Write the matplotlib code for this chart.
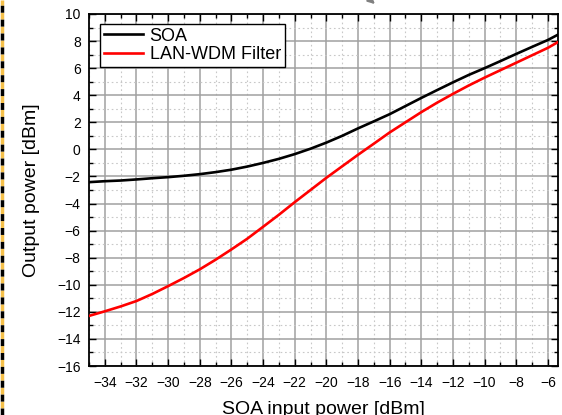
import numpy as np
import matplotlib
matplotlib.use("Agg")
import matplotlib.pyplot as plt
from matplotlib.lines import Line2D
from matplotlib.ticker import MultipleLocator

plt.rcParams['font.family'] = ['Liberation Sans', 'DejaVu Sans']

# input power sweep [dBm]
p_in = [-35, -34, -33, -32, -31, -30, -29, -28, -27, -26, -25, -24, -23, -22,
        -21, -20, -19, -18, -17, -16, -15, -14, -13, -12, -11, -10, -9, -8,
        -7, -6, -5.4]
# output of the bare SOA
p_soa = [-2.42, -2.35, -2.3, -2.22, -2.13, -2.05, -1.95, -1.83, -1.68, -1.5,
         -1.27, -1.0, -0.7, -0.35, 0.05, 0.5, 1.0, 1.55, 2.07, 2.6, 3.2, 3.8,
         4.38, 4.95, 5.5, 6.0, 6.52, 7.05, 7.57, 8.08, 8.45]
# output after the LAN-WDM filter
p_filt = [-12.3, -11.96, -11.6, -11.2, -10.68, -10.1, -9.5, -8.86, -8.15, -7.39,
          -6.6, -5.72, -4.83, -3.9, -3.0, -2.1, -1.25, -0.4, 0.42, 1.25, 2.0,
          2.75, 3.45, 4.1, 4.72, 5.3, 5.85, 6.4, 6.95, 7.5, 7.9]

xticks = list(range(-34, -5, 2))
yticks = list(range(-16, 11, 2))

fig = plt.figure(figsize=(5.62, 4.15), dpi=100)
ax = fig.add_axes([89/562, 49/415, 469/562, 352/415])

ax.plot(p_in, p_soa, color='black', lw=1.9, label='SOA', zorder=3)
ax.plot(p_in, p_filt, color='#ff0000', lw=1.9, label='LAN-WDM Filter', zorder=3)

ax.set_xlim(-35, -5.36)
ax.set_ylim(-16, 10)
ax.set_xticks(xticks)
ax.set_yticks(yticks)
ax.xaxis.set_minor_locator(MultipleLocator(1))
ax.yaxis.set_minor_locator(MultipleLocator(1))

ax.grid(which='major', color='#a0a0a0', lw=1.1, ls='-')
ax.grid(which='minor', color='#c8c8c8', lw=0.8, ls=(0, (1.5, 2.5)))
ax.set_axisbelow(True)

ax.tick_params(which='both', direction='in', top=True, right=True,
               labelsize=10, width=1, color='black')
ax.tick_params(which='major', length=5)
ax.tick_params(which='minor', length=3)
ax.tick_params(axis='x', pad=7)
ax.tick_params(axis='y', pad=6)
for sp in ax.spines.values():
    sp.set_linewidth(1.3)

ax.set_xlabel('SOA input power [dBm]', fontsize=14, labelpad=8)
ax.set_ylabel('Output power [dBm]', fontsize=14, labelpad=12)

leg = ax.legend(loc='upper left', bbox_to_anchor=(11/469, 1 - 10/352),
                fontsize=13, frameon=True, fancybox=False, edgecolor='black',
                borderpad=0.2, labelspacing=0.1, handlelength=2.2,
                handletextpad=0.35, borderaxespad=0)
leg.get_frame().set_linewidth(1.0)
leg.get_frame().set_alpha(1)

# dashed border strip on the left
fig.add_artist(Line2D([0.004, 0.004], [0, 1], transform=fig.transFigure,
                      color='black', lw=2.5, ls=(0, (2, 2)), gapcolor='#f5c04a'))
# piece of a pointer at the top edge
ax.annotate('', xy=(377/562, 1 - 6/415), xytext=(366/562, 1.01),
            xycoords='figure fraction', textcoords='figure fraction',
            arrowprops=dict(arrowstyle='-|>', color='#808080', lw=1.5))

fig.savefig('out.png', dpi=100)
